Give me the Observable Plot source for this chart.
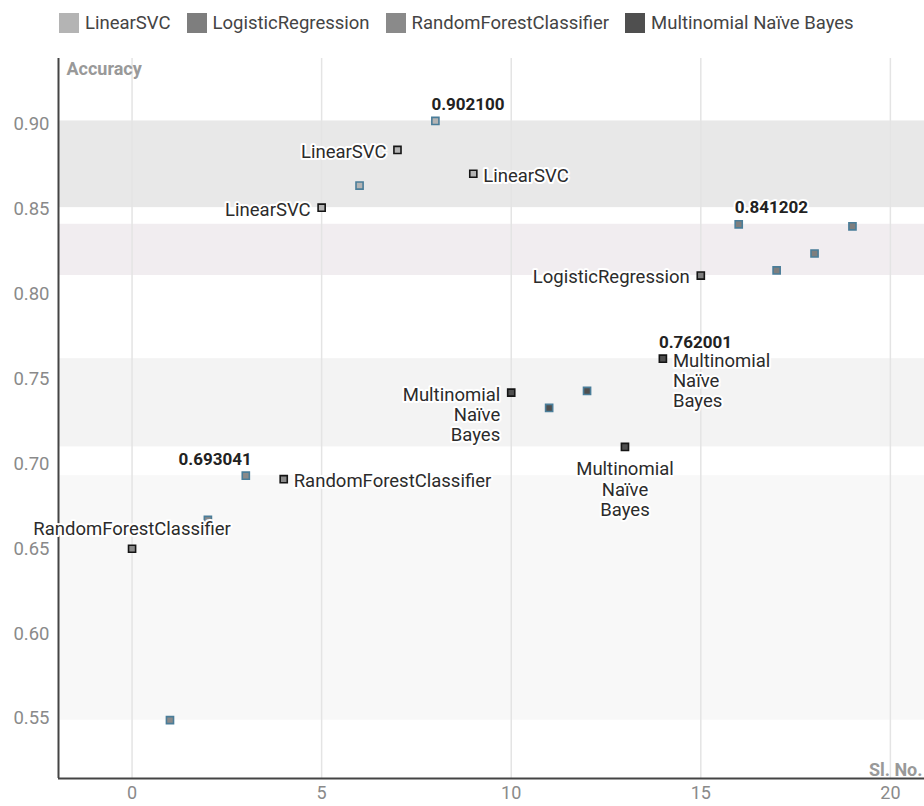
<!DOCTYPE html>
<html>
<head>
<meta charset="utf-8">
<script src="https://cdn.jsdelivr.net/npm/d3@7"></script>
<script src="https://cdn.jsdelivr.net/npm/@observablehq/plot@0.6"></script>
<style>
  html, body { margin: 0; padding: 0; background: #fff; overflow: hidden; }
  body { width: 924px; height: 806px; font-family: Roboto, "Noto Sans", sans-serif; }
  #legend { height: 46px; display: flex; align-items: center; padding-left: 59px; box-sizing: border-box; }
  .item { display: flex; align-items: center; margin-right: 16px; font-size: 18.5px; color: #444; }
  .sw { width: 20px; height: 20px; margin-right: 6px; box-sizing: border-box; }
  svg { display: block; }
</style>
</head>
<body>
<div id="legend"></div>
<div id="chart"></div>
<script>
// ---- data ----
const slNo = [0, 1, 2, 3, 4, 5, 6, 7, 8, 9, 10, 11, 12, 13, 14, 15, 16, 17, 18, 19];
const accuracy = [0.650, 0.549, 0.667, 0.693041, 0.691,
                  0.851, 0.864, 0.885, 0.902100, 0.871,
                  0.742, 0.733, 0.743, 0.710, 0.762001,
                  0.811, 0.841202, 0.814, 0.824, 0.840];
const model = ["RandomForestClassifier", "RandomForestClassifier", "RandomForestClassifier", "RandomForestClassifier", "RandomForestClassifier",
               "LinearSVC", "LinearSVC", "LinearSVC", "LinearSVC", "LinearSVC",
               "Multinomial Naïve Bayes", "Multinomial Naïve Bayes", "Multinomial Naïve Bayes", "Multinomial Naïve Bayes", "Multinomial Naïve Bayes",
               "LogisticRegression", "LogisticRegression", "LogisticRegression", "LogisticRegression", "LogisticRegression"];
// which points carry a model-name annotation, and on which side
const nameLabelSide = ["top", "", "", "", "right",
                       "left", "", "left", "", "right",
                       "left", "", "", "bottom", "right",
                       "left", "", "", "", ""];
const legendModels = ["LinearSVC", "LogisticRegression", "RandomForestClassifier", "Multinomial Naïve Bayes"];
const xTicks = [0, 5, 10, 15, 20];
const yTicks = [0.55, 0.60, 0.65, 0.70, 0.75, 0.80, 0.85, 0.90];

// ---- styles ----
const modelColor = {
  "LinearSVC": "#b4b4b4",
  "LogisticRegression": "#7e7e7e",
  "RandomForestClassifier": "#8a8a8a",
  "Multinomial Naïve Bayes": "#4f4f4f"
};
const bandColor = {
  "LinearSVC": "#e8e8e8",
  "LogisticRegression": "#f1edf0",
  "RandomForestClassifier": "#f8f8f8",
  "Multinomial Naïve Bayes": "#f3f3f3"
};

const data = slNo.map((x, i) => ({x, y: accuracy[i], model: model[i], side: nameLabelSide[i]}));
const bands = legendModels.map(m => {
  const vals = data.filter(d => d.model === m).map(d => d.y);
  return {model: m, min: d3.min(vals), max: d3.max(vals)};
});
const maxima = legendModels.map(m => d3.greatest(data.filter(d => d.model === m), d => d.y));

const xDomain = [-1.94, 20.9];
const yDomain = [0.5146, 0.9389];

// ---- legend ----
const legend = document.getElementById("legend");
legendModels.forEach(m => {
  const it = document.createElement("div");
  it.className = "item";
  const sw = document.createElement("div");
  sw.className = "sw";
  sw.style.background = modelColor[m];
  it.appendChild(sw);
  const t = document.createElement("span");
  t.textContent = m;
  it.appendChild(t);
  legend.appendChild(it);
});

const fs = 18.5;
const halo = {stroke: "white", strokeWidth: 4, paintOrder: "stroke", fill: "#2b2b2b", fontSize: fs};
const wrap = d => d.model.split(" ").join("\n");

const chart = Plot.plot({
  width: 924,
  height: 760,
  marginTop: 12,
  marginLeft: 58,
  marginRight: 0,
  marginBottom: 28,
  style: {fontFamily: "Roboto, sans-serif", fontSize: fs + "px", color: "#8a8a8a", background: "white", overflow: "visible"},
  x: {domain: xDomain},
  y: {domain: yDomain},
  color: {type: "identity"},
  marks: [
    Plot.rect(bands, {x1: xDomain[0], x2: xDomain[1], y1: "min", y2: "max", fill: d => bandColor[d.model]}),
    Plot.ruleX(xTicks, {stroke: "#e4e4e4", strokeWidth: 1.5}),
    Plot.axisX({ticks: xTicks, tickSize: 0, tickPadding: 8, fontSize: 18, label: null, tickFormat: d3.format("d")}),
    Plot.axisY({ticks: yTicks, tickSize: 0, tickPadding: 9, label: null, tickFormat: d3.format(".2f")}),
    Plot.ruleX([xDomain[0]], {stroke: "#444", strokeWidth: 2}),
    Plot.ruleY([yDomain[0]], {stroke: "#444", strokeWidth: 2}),
    Plot.text(["Accuracy"], {frameAnchor: "top-left", dx: 8, dy: 4, fontWeight: "bold", fill: "#999", fontSize: 18}),
    Plot.text(["Sl. No."], {frameAnchor: "bottom-right", dx: -2, dy: -3, fontWeight: "bold", fill: "#999", fontSize: 18, textAnchor: "end"}),
    Plot.dot(data, {x: "x", y: "y", symbol: "square", r: 4,
      fill: d => modelColor[d.model],
      stroke: d => d.side ? "#151515" : "#4a7d99", strokeWidth: 1.6}),
    Plot.text(data.filter(d => d.side === "left"), {x: "x", y: "y", text: wrap, textAnchor: "end", lineAnchor: "top", dx: -11, dy: -6.5, lineHeight: 1.1, ...halo}),
    Plot.text(data.filter(d => d.side === "right"), {x: "x", y: "y", text: wrap, textAnchor: "start", lineAnchor: "top", dx: 10, dy: -6.5, lineHeight: 1.1, ...halo}),
    Plot.text(data.filter(d => d.side === "bottom"), {x: "x", y: "y", text: wrap, textAnchor: "middle", lineAnchor: "top", dy: 14, lineHeight: 1.1, ...halo}),
    Plot.text(data.filter(d => d.side === "top"), {x: "x", y: "y", text: wrap, textAnchor: "middle", lineAnchor: "bottom", dy: -13.4, lineHeight: 1.1, ...halo}),
    Plot.text(maxima.filter(d => d.model === "RandomForestClassifier"), {x: "x", y: "y", text: d => d.y.toFixed(6), textAnchor: "end", lineAnchor: "bottom", dx: 6, dy: -11, ...halo, fontSize: 17, fontWeight: "bold", fill: "#222"}),
    Plot.text(maxima.filter(d => d.model !== "RandomForestClassifier"), {x: "x", y: "y", text: d => d.y.toFixed(6), textAnchor: "start", lineAnchor: "bottom", dx: -4, dy: -11, ...halo, fontSize: 17, fontWeight: "bold", fill: "#222"})
  ]
});
document.getElementById("chart").appendChild(chart);
</script>
</body>
</html>
